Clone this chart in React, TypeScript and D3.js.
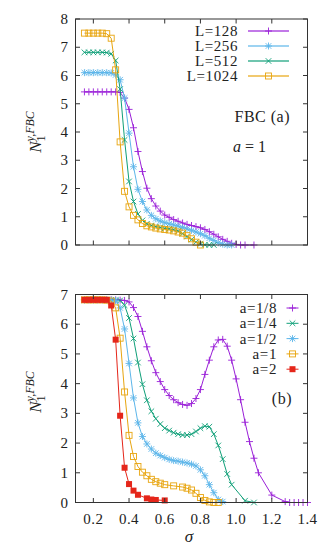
import React from "react";
import * as d3 from "d3";

const W = 335;
const H = 552;

// panel (a): FBC, a = 1, different L
const l128: [number, number][] = [
  [0.15, 5.42], [0.175, 5.42], [0.2, 5.42], [0.225, 5.42], [0.25, 5.42], [0.275, 5.42], [0.3, 5.42], [0.325, 5.42],
  [0.35, 5.4], [0.375, 5.2], [0.4, 4.8], [0.425, 4.15], [0.45, 3.31], [0.475, 2.6], [0.5, 2.01], [0.525, 1.64],
  [0.55, 1.38], [0.575, 1.2], [0.6, 1.06], [0.625, 0.98], [0.65, 0.9], [0.675, 0.84], [0.7, 0.78], [0.725, 0.73],
  [0.75, 0.69], [0.775, 0.65], [0.8, 0.61], [0.825, 0.55], [0.85, 0.47], [0.875, 0.38], [0.9, 0.29], [0.925, 0.2],
  [0.95, 0.13], [0.975, 0.06], [1.0, 0.02], [1.025, 0.0], [1.05, 0.0], [1.1, 0.0],
];
const l256: [number, number][] = [
  [0.15, 6.1], [0.175, 6.1], [0.2, 6.1], [0.225, 6.1], [0.25, 6.1], [0.275, 6.1], [0.3, 6.09], [0.325, 6.02],
  [0.35, 5.85], [0.375, 5.2], [0.4, 3.96], [0.425, 2.77], [0.45, 1.97], [0.475, 1.54], [0.5, 1.24], [0.525, 1.05],
  [0.55, 0.93], [0.575, 0.85], [0.6, 0.79], [0.625, 0.75], [0.65, 0.71], [0.675, 0.67], [0.7, 0.62], [0.725, 0.57],
  [0.75, 0.52], [0.775, 0.46], [0.8, 0.4], [0.825, 0.33], [0.85, 0.24], [0.875, 0.16], [0.9, 0.08], [0.925, 0.03],
  [0.95, 0.0], [0.975, 0.0],
];
const l512: [number, number][] = [
  [0.15, 6.82], [0.175, 6.82], [0.2, 6.82], [0.225, 6.82], [0.25, 6.82], [0.275, 6.81], [0.3, 6.77], [0.325, 6.53],
  [0.35, 5.52], [0.375, 3.72], [0.4, 2.25], [0.425, 1.54], [0.45, 1.1], [0.475, 0.87], [0.5, 0.75], [0.525, 0.69],
  [0.55, 0.65], [0.575, 0.62], [0.6, 0.59], [0.625, 0.57], [0.65, 0.54], [0.675, 0.49], [0.7, 0.4], [0.725, 0.3],
  [0.75, 0.19], [0.775, 0.1], [0.8, 0.04], [0.825, 0.01], [0.85, 0.0], [0.875, 0.0],
];
const l1024: [number, number][] = [
  [0.15, 7.5], [0.175, 7.5], [0.2, 7.5], [0.225, 7.5], [0.25, 7.5], [0.275, 7.48], [0.3, 7.32], [0.325, 6.2],
  [0.35, 3.65], [0.375, 1.9], [0.4, 1.35], [0.425, 1.05], [0.45, 0.89], [0.475, 0.76], [0.5, 0.68], [0.525, 0.64],
  [0.55, 0.6], [0.575, 0.57], [0.6, 0.55], [0.625, 0.53], [0.65, 0.5], [0.675, 0.46], [0.7, 0.42], [0.725, 0.33],
  [0.75, 0.22], [0.775, 0.1], [0.8, 0.0],
];

// panel (b): different a
const a8: [number, number][] = [
  [0.15, 6.82], [0.175, 6.82], [0.2, 6.82], [0.225, 6.82], [0.25, 6.82], [0.275, 6.82], [0.3, 6.82], [0.325, 6.82],
  [0.35, 6.81], [0.375, 6.8], [0.4, 6.75], [0.425, 6.56], [0.45, 6.26], [0.475, 5.76], [0.5, 5.24], [0.525, 4.77],
  [0.55, 4.37], [0.575, 4.07], [0.6, 3.8], [0.625, 3.6], [0.65, 3.46], [0.675, 3.36], [0.7, 3.3], [0.725, 3.27],
  [0.75, 3.33], [0.775, 3.5], [0.8, 3.8], [0.825, 4.31], [0.85, 4.79], [0.875, 5.24], [0.9, 5.47], [0.925, 5.49],
  [0.95, 5.26], [0.975, 4.79], [1.0, 4.16], [1.025, 3.46], [1.05, 2.7], [1.075, 2.05], [1.1, 1.49], [1.125, 1.0],
  [1.2, 0.25], [1.275, 0.03], [1.3, 0.0], [1.325, 0.0], [1.35, 0.0], [1.375, 0.0], [1.4, 0.0],
];
const a4: [number, number][] = [
  [0.15, 6.82], [0.175, 6.82], [0.2, 6.82], [0.225, 6.82], [0.25, 6.82], [0.275, 6.82], [0.3, 6.82], [0.325, 6.81],
  [0.35, 6.8], [0.375, 6.64], [0.4, 6.21], [0.425, 5.52], [0.45, 4.71], [0.475, 3.98], [0.5, 3.44], [0.525, 3.07],
  [0.55, 2.82], [0.575, 2.64], [0.6, 2.5], [0.625, 2.42], [0.65, 2.35], [0.675, 2.3], [0.7, 2.27], [0.725, 2.27],
  [0.75, 2.3], [0.775, 2.39], [0.8, 2.5], [0.825, 2.57], [0.85, 2.55], [0.875, 2.3], [0.9, 1.92], [0.925, 1.46],
  [0.95, 0.96], [0.975, 0.6], [1.05, 0.06], [1.1, 0.0],
];
const a2: [number, number][] = [
  [0.15, 6.82], [0.175, 6.82], [0.2, 6.82], [0.225, 6.82], [0.25, 6.82], [0.275, 6.82], [0.3, 6.81], [0.325, 6.8],
  [0.35, 6.55], [0.375, 5.84], [0.4, 4.68], [0.425, 3.52], [0.45, 2.68], [0.475, 2.22], [0.5, 1.97], [0.525, 1.8],
  [0.55, 1.66], [0.575, 1.58], [0.6, 1.51], [0.625, 1.45], [0.65, 1.41], [0.675, 1.39], [0.7, 1.36], [0.725, 1.33],
  [0.75, 1.29], [0.775, 1.23], [0.8, 1.1], [0.825, 0.9], [0.85, 0.6], [0.875, 0.33], [0.9, 0.1], [0.925, 0.03],
];
const a1: [number, number][] = [
  [0.15, 6.82], [0.175, 6.82], [0.2, 6.82], [0.225, 6.82], [0.25, 6.82], [0.275, 6.81], [0.3, 6.78], [0.325, 6.55],
  [0.35, 5.53], [0.375, 3.72], [0.4, 2.26], [0.425, 1.55], [0.45, 1.21], [0.475, 1.02], [0.5, 0.9], [0.525, 0.78],
  [0.55, 0.7], [0.575, 0.65], [0.6, 0.6], [0.65, 0.56], [0.7, 0.52], [0.725, 0.48], [0.75, 0.42], [0.775, 0.31],
  [0.8, 0.17], [0.825, 0.07], [0.85, 0.02], [0.875, 0.0], [0.9, 0.0],
];
const a05: [number, number][] = [
  [0.15, 6.82], [0.175, 6.82], [0.2, 6.82], [0.225, 6.82], [0.25, 6.82], [0.275, 6.82], [0.3, 6.63], [0.325, 5.48],
  [0.35, 2.92], [0.375, 1.17], [0.4, 0.62], [0.425, 0.4], [0.45, 0.26], [0.5, 0.14], [0.525, 0.1], [0.55, 0.085],
  [0.6, 0.07],
];

const xTicks = [0.2, 0.4, 0.6, 0.8, 1.0, 1.2, 1.4];
const xTickLabels = ["0.2", "0.4", "0.6", "0.8", "1.0", "1.2", "1.4"];
const yTicksTop = [0, 1, 2, 3, 4, 5, 6, 7, 8];
const yTicksBottom = [0, 1, 2, 3, 4, 5, 6, 7];

const PURPLE = "#9a1fd8";
const GREEN = "#0f9f78";
const BLUE = "#5cb6ea";
const ORANGE = "#e8a50f";
const RED = "#e5261a";

type Mk = "plus" | "cross" | "star" | "box" | "fbox";

const topSeries = [
  { label: "L=128", data: l128, color: PURPLE, mk: "plus" as Mk },
  { label: "L=256", data: l256, color: BLUE, mk: "star" as Mk },
  { label: "L=512", data: l512, color: GREEN, mk: "cross" as Mk },
  { label: "L=1024", data: l1024, color: ORANGE, mk: "box" as Mk },
];
const botSeries = [
  { label: "a=1/8", data: a8, color: PURPLE, mk: "plus" as Mk },
  { label: "a=1/4", data: a4, color: GREEN, mk: "cross" as Mk },
  { label: "a=1/2", data: a2, color: BLUE, mk: "star" as Mk },
  { label: "a=1", data: a1, color: ORANGE, mk: "box" as Mk },
  { label: "a=2", data: a05, color: RED, mk: "fbox" as Mk },
];

const FONT = "Liberation Serif";

function Marker({ t, x, y, c }: { t: Mk; x: number; y: number; c: string }) {
  const p = 3.5;
  const q = 2.8;
  const sw = 0.9;
  if (t === "plus")
    return <path d={`M${x - p},${y}H${x + p}M${x},${y - p}V${y + p}`} stroke={c} strokeWidth={sw} fill="none" />;
  if (t === "cross")
    return <path d={`M${x - q},${y - q}L${x + q},${y + q}M${x - q},${y + q}L${x + q},${y - q}`} stroke={c} strokeWidth={sw} fill="none" />;
  if (t === "star")
    return (
      <path
        d={`M${x - p},${y}H${x + p}M${x},${y - p}V${y + p}M${x - q},${y - q}L${x + q},${y + q}M${x - q},${y + q}L${x + q},${y - q}`}
        stroke={c} strokeWidth={sw} fill="none" />
    );
  if (t === "box")
    return <rect x={x - 3} y={y - 3} width={6} height={6} stroke={c} strokeWidth={sw} fill="none" />;
  return <rect x={x - 3} y={y - 3} width={6} height={6} fill={c} />;
}

const x = d3.scaleLinear().domain([0.1, 1.4]).range([75.5, 307.5]);

function Panel({
  y, ticks, series, showX,
}: {
  y: d3.ScaleLinear<number, number>;
  ticks: number[];
  series: typeof topSeries;
  showX: boolean;
}) {
  const [y0, y1] = y.range();
  const [x0, x1] = x.range();
  const line = d3.line<[number, number]>().x((d) => x(d[0])).y((d) => y(d[1]));
  const tl = 4.5;
  return (
    <g>
      {series.map((s) => (
        <g key={s.label}>
          <path d={line(s.data) || ""} fill="none" stroke={s.color} strokeWidth={1} />
          {s.data.map((d, i) => (
            <Marker key={i} t={s.mk} x={x(d[0])} y={y(d[1])} c={s.color} />
          ))}
        </g>
      ))}
      <rect x={x0} y={y1} width={x1 - x0} height={y0 - y1} fill="none" stroke="#333" strokeWidth={1} />
      {xTicks.map((t, i) => (
        <g key={t}>
          <line x1={x(t)} x2={x(t)} y1={y0} y2={y0 - tl} stroke="#333" />
          <line x1={x(t)} x2={x(t)} y1={y1} y2={y1 + tl} stroke="#333" />
          {showX && (
            <text x={x(t)} y={y0 + 21} textAnchor="middle" fontSize={15} fontFamily={FONT} fill="#222" letterSpacing={0.4}>
              {xTickLabels[i]}
            </text>
          )}
        </g>
      ))}
      {ticks.map((t) => (
        <g key={t}>
          <line x1={x0} x2={x0 + tl} y1={y(t)} y2={y(t)} stroke="#333" />
          <line x1={x1} x2={x1 - tl} y1={y(t)} y2={y(t)} stroke="#333" />
          <text x={68} y={y(t) + 5} textAnchor="end" fontSize={15} fontFamily={FONT} fill="#222">
            {t}
          </text>
        </g>
      ))}
    </g>
  );
}

function YLabel({ cx, cy }: { cx: number; cy: number }) {
  return (
    <text transform={`translate(${cx},${cy}) rotate(-90)`} textAnchor="middle" fontFamily={FONT} fill="#222" fontSize={17}>
      <tspan fontStyle="italic">N</tspan>
      <tspan fontSize={12} dy={4}>1</tspan>
      <tspan fontSize={12} fontStyle="italic" dx={-6} dy={-11}>y,FBC</tspan>
    </text>
  );
}

export default function App() {
  const yTop = d3.scaleLinear().domain([0, 8]).range([245, 19]);
  const yBot = d3.scaleLinear().domain([0, 7]).range([502.5, 294.5]);
  return (
    <div style={{ position: "absolute", left: 0, top: 0 }}>
      <svg width={W} height={H} style={{ display: "block", background: "#fff" }}>
        <Panel y={yTop} ticks={yTicksTop} series={topSeries} showX={false} />
        <Panel y={yBot} ticks={yTicksBottom} series={botSeries} showX={true} />

        {topSeries.map((s, i) => {
          const ly = 31 + i * 15;
          return (
            <g key={s.label}>
              <text x={238} y={ly + 5} textAnchor="end" fontSize={15} fontFamily={FONT} fill="#222" letterSpacing={0.6}>
                {s.label}
              </text>
              <line x1={248} x2={289} y1={ly} y2={ly} stroke={s.color} strokeWidth={2} strokeOpacity={0.6} />
              <Marker t={s.mk} x={268.5} y={ly} c={s.color} />
            </g>
          );
        })}
        <text x={290} y={122} textAnchor="end" fontSize={16} fontFamily={FONT} fill="#222" letterSpacing={0.5}>
          FBC (a)
        </text>
        <text x={233} y={152} fontSize={16} fontFamily={FONT} fill="#222">
          <tspan fontStyle="italic">a</tspan> = 1
        </text>

        {botSeries.map((s, i) => {
          const ly = 308 + i * 15.3;
          return (
            <g key={s.label}>
              <text x={277} y={ly + 5} textAnchor="end" fontSize={15} fontFamily={FONT} fill="#222" letterSpacing={0.6}>
                {s.label}
              </text>
              <line x1={286.5} x2={298.5} y1={ly} y2={ly} stroke={s.color} strokeWidth={1} />
              <Marker t={s.mk} x={292.5} y={ly} c={s.color} />
            </g>
          );
        })}
        <text x={292} y={404} textAnchor="end" fontSize={16} fontFamily={FONT} fill="#222" letterSpacing={0.5}>
          (b)
        </text>

        <YLabel cx={41} cy={132} />
        <YLabel cx={41} cy={392} />
        <text x={189} y={542} textAnchor="middle" fontSize={17} fontStyle="italic" fontFamily={FONT} fill="#222">
          σ
        </text>
      </svg>
    </div>
  );
}
